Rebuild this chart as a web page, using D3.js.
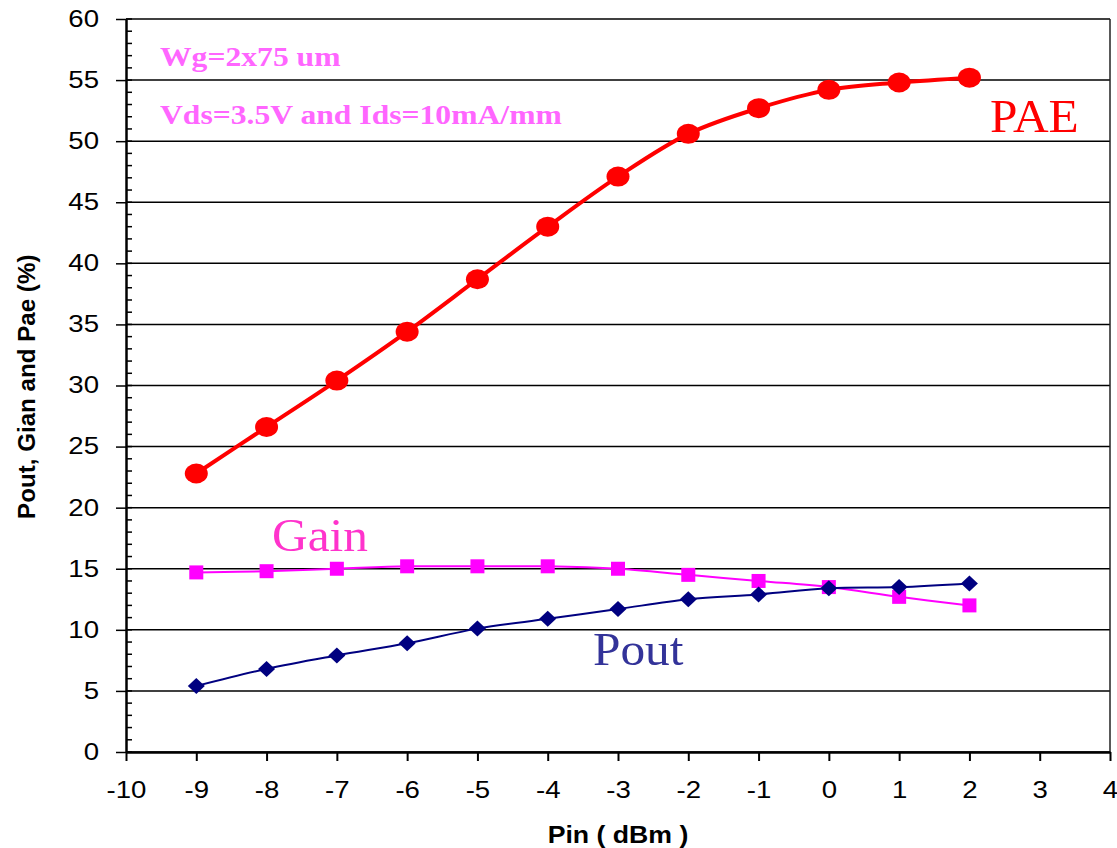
<!DOCTYPE html>
<html>
<head>
<meta charset="utf-8">
<script src="https://cdn.jsdelivr.net/npm/d3@7"></script>
<style>
  body { margin: 0; background: #fff; }
  svg { display: block; }
</style>
</head>
<body>
<div id="chart"></div>
<script>
var pin = [-9, -8, -7, -6, -5, -4, -3, -2, -1, 0, 1, 2];
var pae = [22.8, 26.6, 30.4, 34.4, 38.7, 43.0, 47.1, 50.6, 52.7, 54.2, 54.8, 55.2];
var gain = [14.7, 14.8, 15.0, 15.2, 15.2, 15.2, 15.0, 14.5, 14.0, 13.5, 12.7, 12.0];
var pout = [5.4, 6.8, 7.9, 8.9, 10.1, 10.9, 11.7, 12.5, 12.9, 13.4, 13.5, 13.8];
var xTicks = [-10, -9, -8, -7, -6, -5, -4, -3, -2, -1, 0, 1, 2, 3, 4];
var yTicks = [0, 5, 10, 15, 20, 25, 30, 35, 40, 45, 50, 55, 60];

var W = 1117, H = 848;
var margin = {top: 19, right: 7, bottom: 96, left: 126};
var width = W - margin.left - margin.right,
    height = H - margin.top - margin.bottom;

var sans = "Liberation Sans, Arial, sans-serif",
    serif = "Liberation Serif, Times New Roman, serif";
var stretch = 1.2; // the original picture is a bit wide

var svg = d3.select("#chart").append("svg")
    .attr("width", W)
    .attr("height", H);

var g = svg.append("g")
    .attr("transform", "translate(" + margin.left + "," + margin.top + ")");

var x = d3.scaleLinear().domain([-10, 4]).range([0, width]);
var y = d3.scaleLinear().domain([0, 60]).range([height, 0]);

// gridlines
g.append("g")
    .selectAll("line")
    .data(yTicks)
    .enter().append("line")
    .attr("x1", 0)
    .attr("x2", width)
    .attr("y1", function(d) { return y(d); })
    .attr("y2", function(d) { return y(d); })
    .attr("stroke", "#000")
    .attr("stroke-width", 1.5);

// frame right side
g.append("line")
    .attr("x1", width).attr("x2", width)
    .attr("y1", 0).attr("y2", height)
    .attr("stroke", "#222")
    .attr("stroke-width", 1.5);

// minor y ticks
g.append("g")
    .selectAll("line")
    .data(d3.range(0, 61, 1))
    .enter().append("line")
    .attr("x1", 0)
    .attr("x2", 6)
    .attr("y1", function(d) { return y(d); })
    .attr("y2", function(d) { return y(d); })
    .attr("stroke", "#000")
    .attr("stroke-width", 1.5);

var fmt = function(d) { return String(d); }; // plain hyphen minus

var yAxis = g.append("g")
    .call(d3.axisLeft(y).tickValues(yTicks).tickFormat(fmt).tickSize(10).tickSizeOuter(0));
yAxis.select(".domain").attr("stroke-width", 2.5);
yAxis.selectAll(".tick line").attr("stroke-width", 1.5);
yAxis.selectAll("text")
    .attr("x", -27 / stretch)
    .attr("transform", "scale(" + stretch + ",1)")
    .attr("font-family", sans)
    .attr("font-size", 23)
    .attr("fill", "#000");

var xAxis = g.append("g")
    .attr("transform", "translate(0," + height + ")")
    .call(d3.axisBottom(x).tickValues(xTicks).tickFormat(fmt).tickSize(9).tickPadding(21).tickSizeOuter(0));
xAxis.select(".domain").attr("stroke-width", 2.5);
xAxis.selectAll(".tick line").attr("stroke-width", 2);
xAxis.selectAll("text")
    .attr("transform", "scale(" + stretch + ",1)")
    .attr("font-family", sans)
    .attr("font-size", 23)
    .attr("fill", "#000");

// axis titles
svg.append("text")
    .attr("transform", "translate(" + (margin.left + x(-3.0)) + ",843)scale(1.16,1)")
    .attr("text-anchor", "middle")
    .attr("font-family", sans)
    .attr("font-weight", "bold")
    .attr("font-size", 23)
    .text("Pin ( dBm )");

svg.append("text")
    .attr("transform", "translate(35," + (margin.top + y(29.9)) + ")rotate(-90)scale(1.05,1)")
    .attr("text-anchor", "middle")
    .attr("font-family", sans)
    .attr("font-weight", "bold")
    .attr("font-size", 23)
    .text("Pout, Gian and Pae (%)");

function series(vals) {
    return pin.map(function(p, i) { return {x: p, y: vals[i]}; });
}

var line = d3.line()
    .curve(d3.curveCatmullRom.alpha(0.5))
    .x(function(d) { return x(d.x); })
    .y(function(d) { return y(d.y); });

// Gain
g.append("path")
    .datum(series(gain))
    .attr("fill", "none")
    .attr("stroke", "#ff00ff")
    .attr("stroke-width", 2)
    .attr("d", line);

// Pout
g.append("path")
    .datum(series(pout))
    .attr("fill", "none")
    .attr("stroke", "#000080")
    .attr("stroke-width", 2)
    .attr("d", line);

g.append("g")
    .selectAll("rect")
    .data(series(gain))
    .enter().append("rect")
    .attr("x", function(d) { return x(d.x) - 7; })
    .attr("y", function(d) { return y(d.y) - 7; })
    .attr("width", 14)
    .attr("height", 14)
    .attr("fill", "#ff00ff");

g.append("g")
    .selectAll("path")
    .data(series(pout))
    .enter().append("path")
    .attr("transform", function(d) { return "translate(" + x(d.x) + "," + y(d.y) + ")"; })
    .attr("d", "M0,-8L8.5,0L0,8L-8.5,0Z")
    .attr("fill", "#000080");

// PAE
g.append("path")
    .datum(series(pae))
    .attr("fill", "none")
    .attr("stroke", "#ff0000")
    .attr("stroke-width", 4)
    .attr("d", line);

g.append("g")
    .selectAll("ellipse")
    .data(series(pae))
    .enter().append("ellipse")
    .attr("cx", function(d) { return x(d.x); })
    .attr("cy", function(d) { return y(d.y); })
    .attr("rx", 11.5)
    .attr("ry", 10)
    .attr("fill", "#ff0000");

// series labels
function label(txt, px, py, colour) {
    svg.append("text")
        .attr("transform", "translate(" + px + "," + py + ")scale(1.05,1)")
        .attr("font-family", serif)
        .attr("font-size", 47)
        .attr("fill", colour)
        .text(txt);
}
label("PAE", 990, 132, "#ff0000");
label("Gain", 272, 551, "#ff33cc");
label("Pout", 593, 665, "#333399");

// annotations
function note(txt, py) {
    svg.append("text")
        .attr("transform", "translate(160," + py + ")scale(1.13,1)")
        .attr("font-family", serif)
        .attr("font-weight", "bold")
        .attr("font-size", 28)
        .attr("fill", "#ff66ff")
        .text(txt);
}
note("Wg=2x75 um", 66);
note("Vds=3.5V and Ids=10mA/mm", 124);
</script>
</body>
</html>
